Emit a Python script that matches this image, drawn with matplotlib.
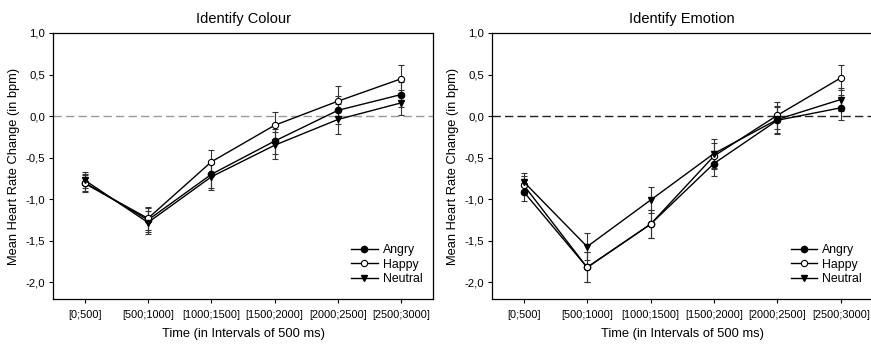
import numpy as np
import matplotlib.pyplot as plt
from matplotlib.ticker import FuncFormatter

plt.rcParams['font.family'] = ['Liberation Sans', 'DejaVu Sans']

intervals = ['[0;500]', '[500;1000]', '[1000;1500]', '[1500;2000]',
             '[2000;2500]', '[2500;3000]']

# Identify Colour
colour_angry = [-0.80, -1.25, -0.70, -0.30, 0.07, 0.26]
colour_happy = [-0.81, -1.23, -0.55, -0.11, 0.18, 0.45]
colour_neutral = [-0.77, -1.28, -0.73, -0.35, -0.04, 0.16]
colour_angry_err = [0.10, 0.14, 0.16, 0.15, 0.17, 0.15]
colour_happy_err = [0.10, 0.14, 0.14, 0.16, 0.18, 0.17]
colour_neutral_err = [0.10, 0.14, 0.16, 0.16, 0.18, 0.15]

# Identify Emotion
emotion_angry = [-0.91, -1.82, -1.30, -0.57, -0.05, 0.10]
emotion_happy = [-0.83, -1.82, -1.30, -0.48, 0.01, 0.46]
emotion_neutral = [-0.79, -1.57, -1.01, -0.45, -0.04, 0.20]
emotion_angry_err = [0.11, 0.18, 0.17, 0.15, 0.16, 0.15]
emotion_happy_err = [0.11, 0.18, 0.17, 0.16, 0.16, 0.15]
emotion_neutral_err = [0.11, 0.16, 0.16, 0.17, 0.16, 0.14]

panels = [
    ('Identify Colour', colour_angry, colour_happy, colour_neutral,
     colour_angry_err, colour_happy_err, colour_neutral_err, '#9a9a9a'),
    ('Identify Emotion', emotion_angry, emotion_happy, emotion_neutral,
     emotion_angry_err, emotion_happy_err, emotion_neutral_err, '#222222'),
]

fig = plt.figure(figsize=(8.71, 3.44), dpi=100)
ax_left = fig.add_axes([53 / 871, 1 - 299 / 344, 380 / 871, 266 / 344])
ax_right = fig.add_axes([492 / 871, 1 - 299 / 344, 380.5 / 871, 266 / 344])

# comma decimals with a plain hyphen, like the original
comma = FuncFormatter(lambda v, p: f'{v:.1f}'.replace('.', ','))

x = np.arange(len(intervals))
for ax, (title, angry, happy, neutral, ea, eh, en, zero_col) in zip([ax_left, ax_right], panels):
    ax.axhline(0, color=zero_col, lw=1.0, ls=(0, (6, 3)), zorder=1)
    kw = dict(color='black', lw=1.0, ecolor='#333333', elinewidth=0.8,
              capsize=2, capthick=0.8, markersize=4.5, zorder=3)
    ax.errorbar(x, angry, yerr=ea, marker='o', mfc='black', mec='black', label='Angry', **kw)
    ax.errorbar(x, happy, yerr=eh, marker='o', mfc='white', mec='black', mew=0.8, label='Happy', **kw)
    ax.errorbar(x, neutral, yerr=en, marker='v', mfc='black', mec='black', label='Neutral', **kw)

    ax.set_xlim(-0.5, 5.5)
    ax.set_ylim(-2.2, 1.0)
    ax.set_yticks(np.arange(-2.0, 1.01, 0.5))
    ax.yaxis.set_major_formatter(comma)
    ax.set_xticks(x)
    ax.set_xticklabels(intervals)
    ax.tick_params(direction='out', length=3, width=0.8, labelsize=7.9)
    ax.tick_params(axis='y', labelsize=8.2, pad=2.5)
    ax.tick_params(axis='x', pad=5)
    for s in ax.spines.values():
        s.set_linewidth(0.9)
    ax.set_title(title, fontsize=10.5, pad=7)
    ax.set_xlabel('Time (in Intervals of 500 ms)', fontsize=9.3, labelpad=6)
    ax.set_ylabel('Mean Heart Rate Change (in bpm)', fontsize=9.3, labelpad=4)

    handles, labels = ax.get_legend_handles_labels()
    handles = [h[0] for h in handles]
    ax.legend(handles, labels, loc='lower right', bbox_to_anchor=(0.995, 0.02),
              frameon=False, fontsize=8.8, handlelength=2.2, handletextpad=0.4,
              labelspacing=0.2, borderpad=0.2)

fig.savefig('out.png', dpi=100)
